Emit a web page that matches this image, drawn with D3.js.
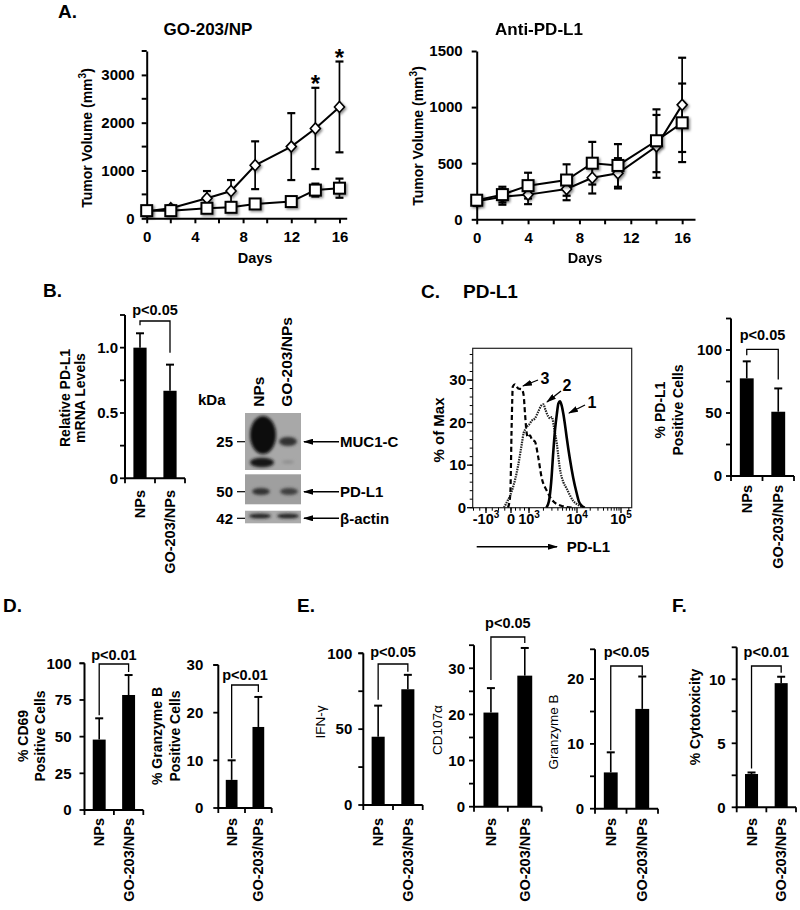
<!DOCTYPE html>
<html><head><meta charset="utf-8">
<script src="https://cdn.jsdelivr.net/npm/d3@7/dist/d3.min.js"></script>
<style>html,body{margin:0;padding:0;background:#fff;}</style>
</head><body>
<script>
// ---------------- DATA ----------------
// Panel A (GO-203/NP)
const daysGO = [0, 2, 5, 7, 9, 12, 14, 16];
const goCtrl = [150, 210, 420, 570, 1110, 1500, 1880, 2330];
const goCtrlErr = [40, 60, 150, 230, 500, 700, 850, 950];
const goTreat = [160, 160, 210, 230, 300, 350, 590, 630];
const goTreatErr = [30, 30, 40, 50, 60, 60, 135, 200];
const goSigDays = [14, 16];
// Panel A (Anti-PD-L1)
const daysPD = [0, 2, 4, 7, 9, 11, 14, 16];
const pdCtrl = [160, 200, 220, 270, 370, 410, 650, 1020];
const pdCtrlErr = [40, 70, 85, 100, 140, 135, 280, 420];
const pdTreat = [170, 220, 300, 350, 500, 480, 700, 860];
const pdTreatErr = [40, 70, 115, 140, 190, 190, 280, 350];
const dayTicks = [0, 4, 8, 12, 16];
const dayMinor = [2, 6, 10, 14];
const goVolTicks = [0, 1000, 2000, 3000];
const goVolMinor = [500, 1500, 2500, 3500];
const pdVolTicks = [0, 500, 1000, 1500];

// Bar charts
const barCats = ["NPs", "GO-203/NPs"];
const mrnaVals = [1.0, 0.67], mrnaErr = [0.11, 0.20];
const pdl1PosVals = [77.5, 51], pdl1PosErr = [13.5, 18.5];
const cd69Vals = [48, 78.4], cd69Err = [14.5, 13.6];
const gzbPosVals = [5.9, 17], gzbPosErr = [4.1, 6.3];
const ifngVals = [45, 76.3], ifngErr = [20.5, 9.5];
const cd107Vals = [20.4, 28.4], cd107Err = [5.3, 6];
const gzbVals = [5.6, 15.4], gzbErr = [3.1, 5];
const cytoVals = [2.6, 9.7], cytoErr = [0.12, 0.5];

// Western blot
const blotLanes = ["NPs", "GO-203/NPs"];
const blotRows = ["MUC1-C", "PD-L1", "\u03B2-actin"];
const blotKDa = ["25", "50", "42"];
const mucDark = [0.95, 0.78];
const pdl1Dark = [0.78, 0.72];
const actinDark = [0.88, 0.88];

// Flow histogram (PD-L1 intensity, % of max)
const hist1 = [[2300,0],[2600,1.5],[2900,6],[3200,13],[3500,18.5],[3800,22],[4100,24.5],[4400,25],[4800,24],[5200,22],[5700,19],[6100,16.5],[7100,11.5],[8350,7],[9800,3.5],[11000,1.5],[12700,0.5],[15000,0]];
const hist2 = [[-280,0],[-150,1.5],[-60,2.5],[50,4],[222,6.5],[400,10],[600,15],[700,17.5],[800,18.5],[872,19],[1000,19.5],[1150,20.5],[1333,21],[1550,22.5],[1800,24],[1990,24.3],[2200,23],[2500,21.5],[2750,21],[3000,21.3],[3300,19],[3800,15],[4430,9],[5200,6],[6100,4.5],[7200,2.8],[8350,1.6],[10000,0.8],[12600,0.3],[15000,0]];
const hist3 = [[-120,0],[-30,3],[40,20],[100,28.5],[222,29],[400,28],[600,27.8],[700,26.5],[780,22],[872,17.5],[950,16.5],[1050,17],[1150,16],[1333,15.5],[1550,12],[1840,7],[2345,4],[3200,1.5],[5190,0.3],[8000,0]];
const histXTicks = [-1000, 0, 1000, 10000, 100000];
const histXLabels = [["-10","3"],["0",""],["10","3"],["10","4"],["10","5"]];
const histYTicks = [0, 10, 20, 30];

// ---------------- SETUP ----------------
const FONT = "'Liberation Sans', Arial, Helvetica, sans-serif";
const svg = d3.select("body").append("svg").attr("width", 800).attr("height", 910)
  .attr("font-family", FONT).style("display", "block");
const defs = svg.append("defs");
defs.append("filter").attr("id", "sh").attr("x", "-50%").attr("y", "-50%").attr("width", "200%").attr("height", "200%")
  .append("feDropShadow").attr("dx", 1.5).attr("dy", 1.5).attr("stdDeviation", 1.3)
  .attr("flood-color", "#000").attr("flood-opacity", 0.45);
defs.append("filter").attr("id", "blur").attr("x", "-50%").attr("y", "-50%").attr("width", "200%").attr("height", "200%")
  .append("feGaussianBlur").attr("stdDeviation", 1.6);
defs.append("marker").attr("id", "arr").attr("viewBox", "0 0 10 6").attr("refX", 9).attr("refY", 3)
  .attr("markerWidth", 10).attr("markerHeight", 6).attr("markerUnits", "userSpaceOnUse").attr("orient", "auto")
  .append("path").attr("d", "M0,0 L10,3 L0,6 Z").attr("fill", "#000");
defs.append("clipPath").attr("id", "hclip").append("rect")
  .attr("x", 472.7).attr("y", 348.3).attr("width", 159).attr("height", 159.4);

function text(g, x, y, s, fs, o = {}) {
  const t = g.append("text").attr("x", x).attr("y", y).attr("font-size", fs)
    .attr("font-weight", o.w || "bold").attr("text-anchor", o.a || "start").attr("fill", "#000");
  if (o.dy) t.attr("dy", o.dy);
  t.text(s);
  return t;
}
function vtext(g, x, cy, s, fs, w) {
  return g.append("text").attr("transform", `translate(${x},${cy}) rotate(-90)`)
    .attr("text-anchor", "middle").attr("dy", "0.35em").attr("font-size", fs)
    .attr("font-weight", w || "bold").attr("fill", "#000").text(s);
}

// Panel letters
const letters = svg.append("g");
text(letters, 58, 18, "A.", 19);
text(letters, 43, 297, "B.", 19);
text(letters, 421, 298, "C.", 19);
text(letters, 463, 298, "PD-L1", 19);
text(letters, 3, 612, "D.", 19);
text(letters, 297, 612, "E.", 19);
text(letters, 672, 612, "F.", 19);

// ---------------- LINE CHARTS ----------------
function lineChart(c) {
  const g = svg.append("g");
  const x = d3.scaleLinear().domain([0, c.xmax]).range([c.x0, c.x1]);
  const y = d3.scaleLinear().domain([0, c.ymax]).range([c.y0, c.y1]);
  const ax = g.append("g").attr("transform", `translate(0,${c.y0})`)
    .call(d3.axisBottom(x).tickValues(dayTicks).tickSize(5).tickSizeOuter(0).tickPadding(8));
  const ay = g.append("g").attr("transform", `translate(${c.x0},0)`)
    .call(d3.axisLeft(y).tickValues(c.yt).tickFormat(d3.format("d")).tickSize(5).tickSizeOuter(0).tickPadding(c.ypad));
  [ax, ay].forEach(a => {
    a.attr("font-family", null).attr("font-size", null);
    a.select(".domain").attr("stroke-width", 2);
    a.selectAll(".tick line").attr("stroke-width", 2);
    a.selectAll("text").attr("font-size", 15).attr("font-weight", "bold").attr("fill", "#000");
  });
  g.selectAll(null).data(dayMinor).join("line")
    .attr("x1", d => x(d)).attr("x2", d => x(d)).attr("y1", c.y0).attr("y2", c.y0 + 5)
    .attr("stroke", "#000").attr("stroke-width", 2);
  g.selectAll(null).data(c.ym || []).join("line")
    .attr("x1", c.x0 - 5).attr("x2", c.x0).attr("y1", d => y(d)).attr("y2", d => y(d))
    .attr("stroke", "#000").attr("stroke-width", 2);

  const ser = c.series.map(s => c.days.map((d, i) => ({ d, v: s.v[i], e: s.e[i], shape: s.shape })));
  ser.forEach(pts => {
    const eg = g.append("g").attr("stroke", "#000").attr("stroke-width", 1.7);
    eg.selectAll(null).data(pts).join("line")
      .attr("x1", p => x(p.d)).attr("x2", p => x(p.d))
      .attr("y1", p => y(p.v - p.e)).attr("y2", p => y(p.v + p.e));
    eg.selectAll(null).data(pts.flatMap(p => [p.v - p.e, p.v + p.e].map(v => ({ d: p.d, v })))).join("line")
      .attr("x1", p => x(p.d) - 4).attr("x2", p => x(p.d) + 4)
      .attr("y1", p => y(p.v)).attr("y2", p => y(p.v)).attr("stroke-width", 2.2);
  });
  const line = d3.line().x(p => x(p.d)).y(p => y(p.v));
  ser.forEach(pts => {
    g.append("path").datum(pts).attr("d", line).attr("fill", "none")
      .attr("stroke", "#000").attr("stroke-width", 2);
  });
  ser.forEach(pts => {
    const mg = g.append("g").attr("filter", "url(#sh)");
    if (pts[0].shape === "square") {
      mg.selectAll(null).data(pts).join("rect")
        .attr("x", p => x(p.d) - 5.5).attr("y", p => y(p.v) - 5.5).attr("width", 11).attr("height", 11)
        .attr("fill", "#fff").attr("stroke", "#000").attr("stroke-width", 2);
    } else {
      mg.selectAll(null).data(pts).join("path")
        .attr("transform", p => `translate(${x(p.d)},${y(p.v)})`)
        .attr("d", "M0,-5.5L5,0L0,5.5L-5,0Z")
        .attr("fill", "#fff").attr("stroke", "#000").attr("stroke-width", 1.6);
    }
  });
  if (c.sig) {
    const s0 = c.series[0];
    g.selectAll(null).data(c.sig).join("text")
      .attr("x", d => x(d)).attr("y", d => { const i = c.days.indexOf(d); return y(s0.v[i] + s0.e[i]) + 4; })
      .attr("text-anchor", "middle").attr("font-size", 24).attr("font-weight", "bold").text("*");
  }
  text(g, c.titleX, 35, c.title, 17, { a: "middle" });
  text(g, c.daysX, 263, "Days", 14.5, { a: "middle" });
  const yl = g.append("text").attr("transform", `translate(${c.ylx},${c.ylcy}) rotate(-90)`)
    .attr("text-anchor", "middle").attr("dy", "0.35em").attr("font-size", 14).attr("font-weight", "bold");
  yl.append("tspan").text("Tumor Volume (mm");
  yl.append("tspan").attr("font-size", 10).attr("dy", -6).text("3");
  yl.append("tspan").attr("dy", 6).text(")");
}

lineChart({
  x0: 146.7, x1: 346.7, xmax: 16.6, y0: 218.3, y1: 51, ymax: 3500,
  yt: goVolTicks, ym: goVolMinor, ypad: 7, days: daysGO,
  series: [{ v: goCtrl, e: goCtrlErr, shape: "diamond" }, { v: goTreat, e: goTreatErr, shape: "square" }],
  sig: goSigDays, title: "GO-203/NP", titleX: 208, daysX: 255, ylx: 87, ylcy: 138
});
lineChart({
  x0: 476.7, x1: 695, xmax: 17, y0: 219.3, y1: 51, ymax: 1500,
  yt: pdVolTicks, ym: null, ypad: 9, days: daysPD,
  series: [{ v: pdCtrl, e: pdCtrlErr, shape: "diamond" }, { v: pdTreat, e: pdTreatErr, shape: "square" }],
  sig: null, title: "Anti-PD-L1", titleX: 539, daysX: 585, ylx: 418, ylcy: 136
});

// ---------------- BAR CHARTS ----------------
function barChart(c, vals, errs) {
  const g = svg.append("g");
  const y = d3.scaleLinear().domain([0, c.max]).range([c.y0, c.yTop]);
  const x = d3.scaleBand().domain(barCats).range([c.ax, c.x1]);
  const cx = d => x(d) + x.bandwidth() / 2;
  g.append("line").attr("x1", c.ax).attr("x2", c.ax).attr("y1", c.y0 + 1).attr("y2", c.yTop)
    .attr("stroke", "#000").attr("stroke-width", 2);
  g.append("line").attr("x1", c.ax - 1).attr("x2", c.x1).attr("y1", c.y0).attr("y2", c.y0)
    .attr("stroke", "#000").attr("stroke-width", 2);
  const tv = [...c.major, ...(c.minor || []), c.max];
  g.selectAll(null).data(tv).join("line")
    .attr("x1", c.ax - 5).attr("x2", c.ax).attr("y1", d => y(d)).attr("y2", d => y(d))
    .attr("stroke", "#000").attr("stroke-width", 1.8);
  g.selectAll(null).data(c.major).join("text")
    .attr("x", c.ax - c.pad).attr("y", d => y(d)).attr("dy", "0.35em").attr("text-anchor", "end")
    .attr("font-size", 15).attr("font-weight", "bold").text(d => c.fmt ? c.fmt(d) : d);
  const xt = [c.ax, x(barCats[1]), c.x1];
  g.selectAll(null).data(xt).join("line")
    .attr("x1", d => d).attr("x2", d => d).attr("y1", c.y0).attr("y2", c.y0 + 5)
    .attr("stroke", "#000").attr("stroke-width", 1.8);
  const bw = x.bandwidth() * 0.44;
  const pts = barCats.map((k, i) => ({ k, v: vals[i], e: errs[i] }));
  g.selectAll(null).data(pts).join("line")
    .attr("x1", p => cx(p.k)).attr("x2", p => cx(p.k)).attr("y1", p => y(p.v)).attr("y2", p => y(p.v + p.e))
    .attr("stroke", "#000").attr("stroke-width", 1.6);
  g.selectAll(null).data(pts).join("line")
    .attr("x1", p => cx(p.k) - 4).attr("x2", p => cx(p.k) + 4).attr("y1", p => y(p.v + p.e)).attr("y2", p => y(p.v + p.e))
    .attr("stroke", "#000").attr("stroke-width", 2);
  g.selectAll(null).data(pts).join("rect")
    .attr("x", p => cx(p.k) - bw / 2).attr("y", p => y(p.v)).attr("width", bw).attr("height", p => c.y0 - y(p.v))
    .attr("fill", "#000");
  g.selectAll(null).data(barCats).join("text")
    .attr("transform", d => `translate(${cx(d) + 5},${c.labTop}) rotate(-90)`)
    .attr("text-anchor", "end").attr("font-size", 14.5).attr("font-weight", "bold").text(d => d);
  c.ylab.forEach((s, i) => vtext(g, c.ylx[i], c.ylcy, s, c.ylfs || 14, c.ylw || "bold"));
  const lx = cx(barCats[0]), rx = cx(barCats[1]);
  const le = y(vals[0] + errs[0]) - c.gap[0], re = y(vals[1] + errs[1]) - c.gap[1];
  g.append("path").attr("d", `M${lx},${le}V${c.brTop}H${rx}V${re}`)
    .attr("fill", "none").attr("stroke", "#000").attr("stroke-width", 1.3);
  text(g, (lx + rx) / 2, c.pY, c.p, 14.5, { a: "middle" });
}

barChart({ ax: 125, x1: 185, y0: 478.3, yTop: 315, max: 1.25, major: [0, 0.5, 1.0], minor: [0.25, 0.75],
  fmt: d => d === 0 ? "0" : d3.format(".1f")(d), pad: 7, labTop: 490,
  ylab: ["Relative PD-L1", "mRNA Levels"], ylx: [65, 80], ylcy: 398,
  brTop: 321, gap: [8, 12], pY: 315, p: "p<0.05" }, mrnaVals, mrnaErr);
barChart({ ax: 731, x1: 794, y0: 476, yTop: 318.5, max: 125, major: [0, 50, 100], minor: [25, 75], pad: 9, labTop: 485,
  ylab: ["% PD-L1", "Positive Cells"], ylx: [660, 678], ylcy: 410,
  brTop: 349.3, gap: [6, 9], pY: 340, p: "p<0.05" }, pdl1PosVals, pdl1PosErr);
barChart({ ax: 84.5, x1: 143.3, y0: 810, yTop: 663.3, max: 100, major: [0, 25, 50, 75, 100], minor: [], pad: 13, labTop: 818,
  ylab: ["% CD69", "Positive Cells"], ylx: [23, 40], ylcy: 736,
  brTop: 664, gap: [3, 3], pY: 660, p: "p<0.01" }, cd69Vals, cd69Err);
barChart({ ax: 218.3, x1: 271.7, y0: 808, yTop: 665, max: 30, major: [0, 10, 20, 30], minor: [], pad: 15, labTop: 818,
  ylab: ["% Granzyme B", "Positive Cells"], ylx: [157, 175], ylcy: 736,
  brTop: 685, gap: [2, 5], pY: 680, p: "p<0.01" }, gzbPosVals, gzbPosErr);
barChart({ ax: 363.3, x1: 422.7, y0: 805, yTop: 653.3, max: 100, major: [0, 50, 100], minor: [25, 75], pad: 11, labTop: 818,
  ylab: ["IFN-\u03B3"], ylx: [320], ylcy: 722, ylfs: 13.5, ylw: "normal",
  brTop: 664, gap: [6, 3], pY: 657, p: "p<0.05" }, ifngVals, ifngErr);
barChart({ ax: 474, x1: 541.7, y0: 806.7, yTop: 645.2, max: 35, major: [0, 10, 20, 30], minor: [5, 15, 25], pad: 9, labTop: 818,
  ylab: ["CD107\u03B1"], ylx: [437], ylcy: 730, ylfs: 13.5, ylw: "normal",
  brTop: 637, gap: [8, 5], pY: 628, p: "p<0.05" }, cd107Vals, cd107Err);
barChart({ ax: 595, x1: 658, y0: 808.7, yTop: 649.3, max: 24.6, major: [0, 10, 20], minor: [5, 15], pad: 11, labTop: 818,
  ylab: ["Granzyme B"], ylx: [553], ylcy: 732, ylfs: 13.5, ylw: "normal",
  brTop: 666, gap: [2, 1], pY: 657, p: "p<0.05" }, gzbVals, gzbErr);
barChart({ ax: 736.7, x1: 796, y0: 807.3, yTop: 647.3, max: 12.5, major: [0, 5, 10], minor: [2.5, 7.5], pad: 11, labTop: 818,
  ylab: ["% Cytotoxicity"], ylx: [695], ylcy: 717,
  brTop: 666, gap: [4, 4], pY: 657, p: "p<0.01" }, cytoVals, cytoErr);

// ---------------- WESTERN BLOT ----------------
(function () {
  const g = svg.append("g");
  const lx = d3.scaleBand().domain(blotLanes).range([245, 301]);
  const lc = d => lx(d) + lx.bandwidth() / 2;
  const panels = [[413, 470, "#a8a8a8"], [474.3, 504.3, "#9f9f9f"], [510.7, 523.3, "#ababab"]];
  panels.forEach(p => g.append("rect").attr("x", 245).attr("y", p[0]).attr("width", 56).attr("height", p[1] - p[0]).attr("fill", p[2]));
  const col = v => { const c = Math.round(230 * (1 - v)); return d3.rgb(c, c, c).toString(); };
  const bg = g.append("g").attr("filter", "url(#blur)");
  bg.append("ellipse").attr("cx", lc(blotLanes[0]) + 4).attr("cy", 435).attr("rx", 13).attr("ry", 19).attr("fill", col(mucDark[0]));
  bg.append("ellipse").attr("cx", lc(blotLanes[0]) + 3).attr("cy", 462.5).attr("rx", 12).attr("ry", 4.8).attr("fill", col(mucDark[0] - 0.05));
  bg.append("ellipse").attr("cx", lc(blotLanes[1]) + 1).attr("cy", 441.5).attr("rx", 9).attr("ry", 4.5).attr("fill", col(mucDark[1]));
  bg.append("ellipse").attr("cx", lc(blotLanes[1]) + 1).attr("cy", 462).attr("rx", 6).attr("ry", 1.8).attr("fill", col(mucDark[1] - 0.4));
  blotLanes.forEach((l, i) => bg.append("ellipse").attr("cx", lc(l) + 2).attr("cy", 491.5).attr("rx", 9).attr("ry", 3.5).attr("fill", col(pdl1Dark[i])));
  blotLanes.forEach((l, i) => bg.append("ellipse").attr("cx", lc(l) + 1).attr("cy", 516).attr("rx", 11).attr("ry", 2.3).attr("fill", col(actinDark[i])));
  text(g, 198, 405, "kDa", 15);
  blotLanes.forEach(l => g.append("text").attr("transform", `translate(${lc(l) + 5},406.7) rotate(-90)`)
    .attr("font-size", 15.5).attr("font-weight", "bold").text(l));
  const rowY = [441.7, 491.7, 518.3];
  blotRows.forEach((r, i) => {
    text(g, 233, rowY[i], blotKDa[i], 15, { a: "end", dy: "0.35em" });
    g.append("line").attr("x1", 237).attr("x2", 245).attr("y1", rowY[i]).attr("y2", rowY[i]).attr("stroke", "#000").attr("stroke-width", 1.2);
    g.append("line").attr("x1", 339).attr("x2", 304).attr("y1", rowY[i]).attr("y2", rowY[i])
      .attr("stroke", "#000").attr("stroke-width", 1.5).attr("marker-end", "url(#arr)");
    text(g, 340, rowY[i], r, 15, { dy: "0.35em" });
  });
})();

// ---------------- FLOW HISTOGRAM ----------------
(function () {
  const g = svg.append("g");
  const xLin = d3.scaleLinear().domain([-1532, 0, 1000]).range([472.7, 511, 529]);
  const xLog = d3.scaleLog().domain([1000, 10000, 100000, 174000]).range([529, 577, 621, 631.7]);
  const hx = v => v <= 1000 ? xLin(v) : xLog(v);
  const y = d3.scaleLinear().domain([0, 37.45]).range([507.7, 348.3]);
  g.append("rect").attr("x", 472.7).attr("y", 348.3).attr("width", 159).attr("height", 159.4)
    .attr("fill", "none").attr("stroke", "#222").attr("stroke-width", 1.2);
  const yMinor = d3.range(0, 37, 2);
  g.selectAll(null).data(yMinor).join("line").attr("x1", 469.7).attr("x2", 472.7)
    .attr("y1", d => y(d)).attr("y2", d => y(d)).attr("stroke", "#000").attr("stroke-width", 1);
  g.selectAll(null).data(histYTicks).join("line").attr("x1", 467).attr("x2", 472.7)
    .attr("y1", d => y(d)).attr("y2", d => y(d)).attr("stroke", "#000").attr("stroke-width", 1.3);
  g.selectAll(null).data(histYTicks).join("text").attr("x", 466).attr("y", d => y(d)).attr("dy", "0.35em")
    .attr("text-anchor", "end").attr("font-size", 15).attr("font-weight", "bold").text(d => d);
  const xMinor = d3.range(-1500, 1001, 250).concat(
    d3.range(2, 10).map(k => k * 1000), d3.range(2, 10).map(k => k * 10000), [150000]);
  g.selectAll(null).data(xMinor).join("line").attr("x1", d => hx(d)).attr("x2", d => hx(d))
    .attr("y1", 507.7).attr("y2", 510.7).attr("stroke", "#000").attr("stroke-width", 1);
  g.selectAll(null).data(histXTicks).join("line").attr("x1", d => hx(d)).attr("x2", d => hx(d))
    .attr("y1", 507.7).attr("y2", 513).attr("stroke", "#000").attr("stroke-width", 1.3);
  histXTicks.forEach((v, i) => {
    const t = g.append("text").attr("x", hx(v)).attr("y", 524).attr("text-anchor", "middle")
      .attr("font-size", 14.5).attr("font-weight", "bold");
    t.append("tspan").text(histXLabels[i][0]);
    if (histXLabels[i][1]) t.append("tspan").attr("dy", -6).attr("font-size", 10).text(histXLabels[i][1]);
  });
  vtext(g, 438.3, 430, "% of Max", 15);
  const line = d3.line().x(d => hx(d[0])).y(d => y(d[1])).curve(d3.curveMonotoneX);
  const cg = g.append("g").attr("clip-path", "url(#hclip)").attr("fill", "none");
  cg.append("path").datum(hist3).attr("d", line).attr("stroke", "#000").attr("stroke-width", 2.2).attr("stroke-dasharray", "5,3");
  cg.append("path").datum(hist2).attr("d", line).attr("stroke", "#222").attr("stroke-width", 2.2).attr("stroke-dasharray", "1.5,1");
  cg.append("path").datum(hist1).attr("d", line).attr("stroke", "#000").attr("stroke-width", 2.6);
  const ann = [["3", 545, 384, 538, 380, 523, 386], ["2", 567, 391, 561, 391, 547, 402], ["1", 592, 407.5, 585, 405, 569, 413]];
  ann.forEach(a => {
    text(g, a[1], a[2], a[0], 16, { a: "middle" });
    g.append("line").attr("x1", a[3]).attr("y1", a[4]).attr("x2", a[5]).attr("y2", a[6])
      .attr("stroke", "#000").attr("stroke-width", 1.3).attr("marker-end", "url(#arr)");
  });
  g.append("line").attr("x1", 476.7).attr("x2", 557).attr("y1", 546.7).attr("y2", 546.7)
    .attr("stroke", "#000").attr("stroke-width", 1.6).attr("marker-end", "url(#arr)");
  text(g, 566.7, 552, "PD-L1", 15);
})();
</script>
</body></html>
